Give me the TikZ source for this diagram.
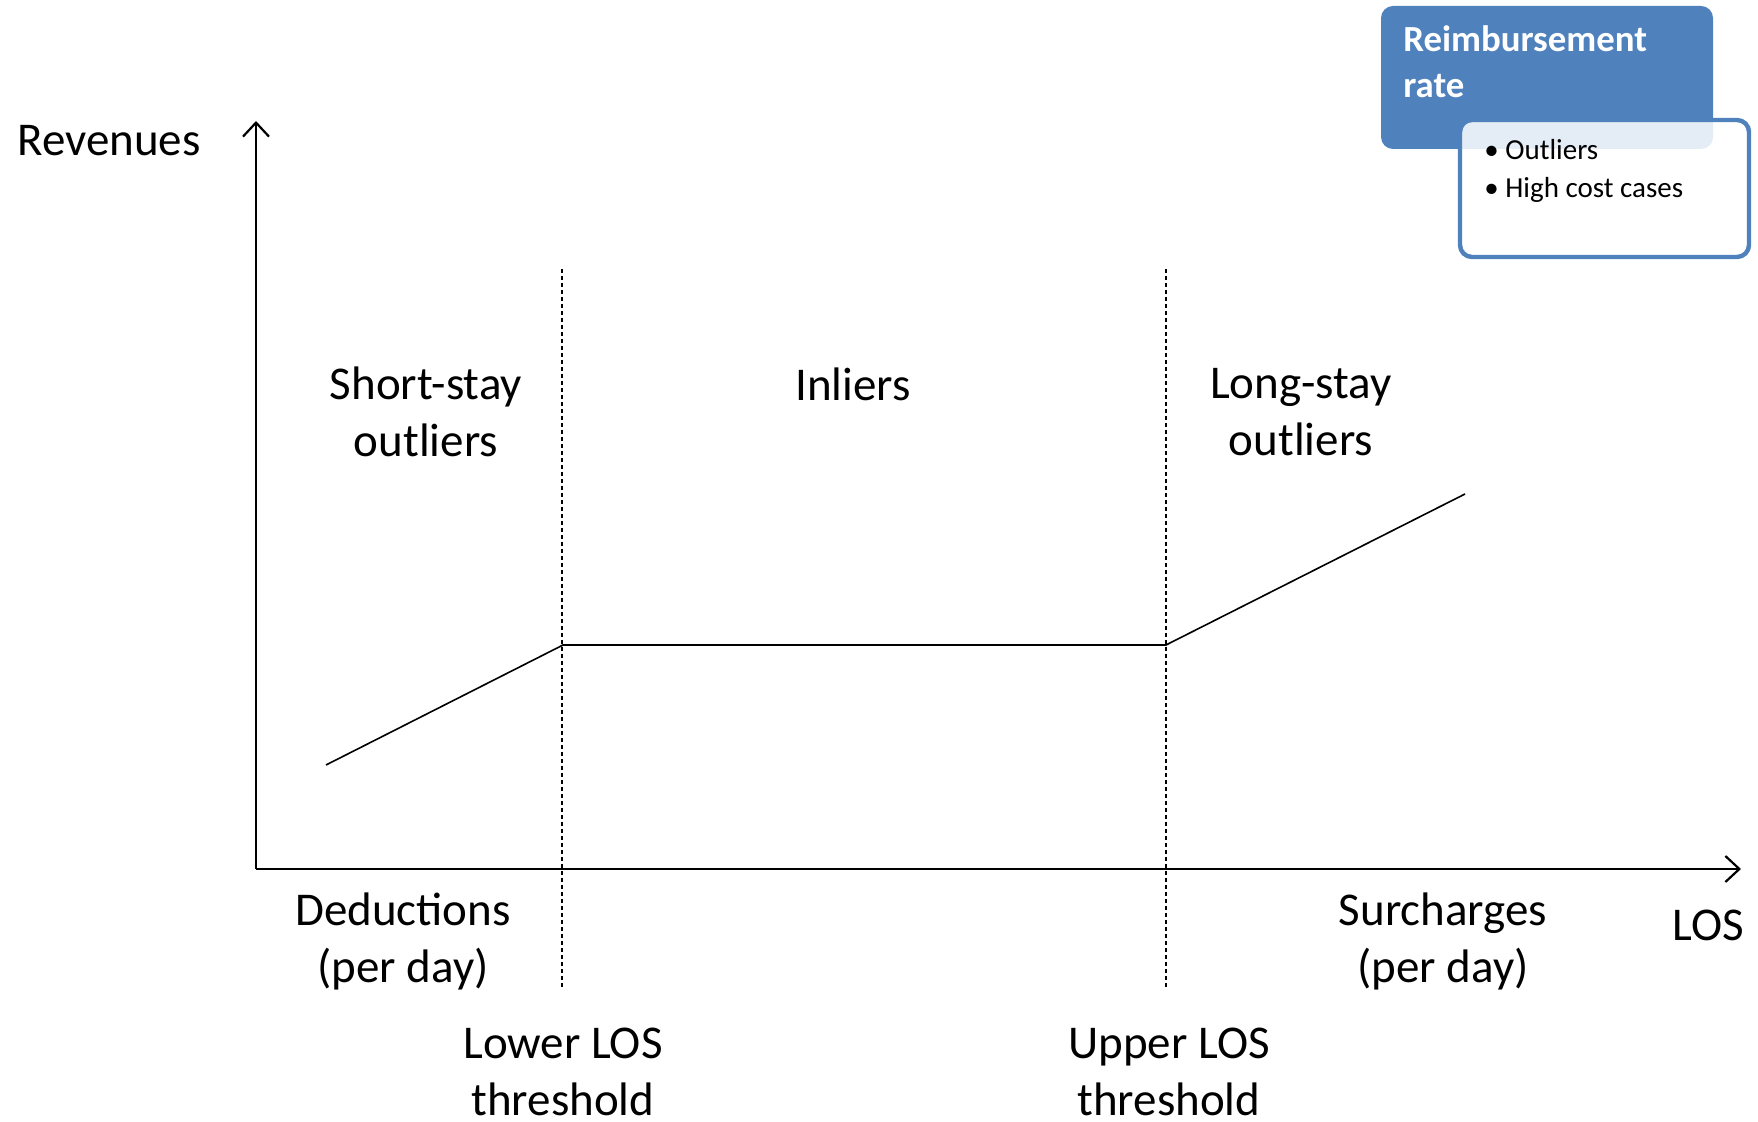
\documentclass[tikz,border=0pt]{standalone}
\usepackage{fontspec}
\setmainfont{Carlito}
\usetikzlibrary{arrows.meta}
\definecolor{officeblue}{HTML}{4F81BD}
\begin{document}
\begin{tikzpicture}[x=0.5pt, y=-0.5pt,
  every node/.style={font=\fontsize{23.5}{28.5}\selectfont, inner sep=0pt},
  lbl/.style={align=center},
  axis/.style={line width=1.1pt, -{Straight Barb[length=7pt, width=13pt, line width=1.1pt]}},
  thr/.style={line width=0.6pt, dash pattern=on 2pt off 1.5pt},
  rev/.style={line width=0.8pt},
  ratebox/.style={fill=officeblue, rounded corners=6pt, minimum width=166pt, minimum height=71.5pt},
  listbox/.style={draw=officeblue, line width=2.2pt, fill=white, fill opacity=0.85, rounded corners=6pt, minimum width=144.5pt, minimum height=68.5pt},
  small/.style={font=\fontsize{14.5}{17}\selectfont, anchor=west}]
\useasboundingbox (0,0) rectangle (1758,1122);
% axes
\coordinate (o) at (256,869);
\coordinate (ytop) at (256,121);
\coordinate (xend) at (1741,869);
\draw[axis] (o) -- (ytop);
\draw[axis] (o) -- (xend);
% thresholds
\coordinate (lo1) at (562,269); \coordinate (lo2) at (562,987);
\coordinate (up1) at (1166,269); \coordinate (up2) at (1166,987);
\draw[thr] (lo1) -- (lo2);
\draw[thr] (up1) -- (up2);
% revenue curve
\coordinate (r0) at (326,765);
\coordinate (r1) at (563,645);
\coordinate (r2) at (1166,645);
\coordinate (r3) at (1465,494);
\draw[rev] (r0) -- (r1) -- (r2) -- (r3);
% labels
\node (revenues) at (109,141) {Revenues};
\node (los) at (1708,925) {LOS};
\node[lbl] (short) at (426,412) {Short-stay\\outliers};
\node (inl) at (853,384) {Inliers};
\node[lbl] (long) at (1301,412) {Long-stay\\outliers};
\node[lbl] (ded) at (403,941) {Deductions\\(per day)};
\node[lbl] (sur) at (1443,941) {Surcharges\\(per day)};
\node[lbl] (lower) at (563,1072) {Lower LOS\\threshold};
\node[lbl] (upper) at (1169,1072) {Upper LOS\\threshold};
% legend box
\node[ratebox] (rate) at (1547,77.5) {};
\node[listbox] (list) at (1604.5,188.5) {};
\node[anchor=north west, align=left, text=white, font=\fontsize{18.4}{23}\selectfont\bfseries] (ratetxt) at (1403,25) {Reimbursement\\rate};
\node[small] (b1) at (1484,150) {\textbullet\ Outliers};
\node[small] (b2) at (1484,190) {\textbullet\ High cost cases};
\end{tikzpicture}
\end{document}
